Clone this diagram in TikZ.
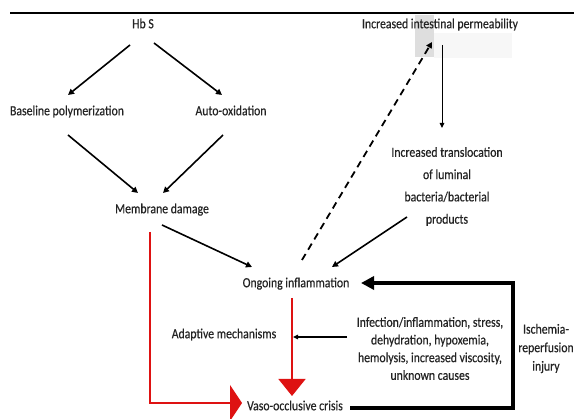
\documentclass[tikz,border=0pt]{standalone}
\usepackage{fontspec}
\setmainfont{Carlito}[FakeStretch=0.84,FakeBold=0.4]
\usetikzlibrary{arrows.meta,calc}
\definecolor{vocred}{RGB}{222,18,18}
\definecolor{txtgray}{RGB}{35,35,35}
\begin{document}
\begin{tikzpicture}[x=1pt,y=-1pt,
	lbl/.style={font=\fontsize{14}{17.7}\selectfont, text=txtgray, inner sep=0pt, text height=9.5pt, text depth=3pt},
	multi/.style={font=\fontsize{14}{#1}\selectfont, text=txtgray, inner sep=0pt, align=center},
	blk/.style={line width=1.6pt, -{Triangle[length=6pt,width=6pt]}},
	thin/.style={line width=1pt, -{Triangle[length=5pt,width=4.5pt]}},
	redline/.style={line width=1.5pt, draw=vocred},
	loop/.style={line width=3.6pt, -{Triangle[length=13pt,width=13pt]}}]
	\useasboundingbox (0,0) rectangle (574,419);
	\fill[white] (0,0) rectangle (574,419);

	\fill[black!13] (415,15) rectangle (434,57);
	\fill[black!3] (434,33) rectangle (512,58);
	\draw[line width=2.6pt] (10,13) -- (574,13);

	\node[lbl] (hbs) at (143,25) {Hb S};
	\node[lbl] (icp) at (440,25) {Increased intestinal permeability};
	\node[lbl] (basepol) at (67,112) {Baseline polymerization};
	\node[lbl] (autox) at (231,112) {Auto-oxidation};
	\node[lbl] (memb) at (162,210) {Membrane damage};
	\node[multi=22.3] (transl) at (447,186.5) {Increased translocation\\of luminal\\bacteria/bacterial\\products};
	\node[lbl] (ongo) at (296,284) {Ongoing inflammation};
	\node[lbl] (adapt) at (224,335) {Adaptive mechanisms};
	\node[multi=17.7] (infect) at (430,348.5) {Infection/inflammation, stress,\\dehydration, hypoxemia,\\hemolysis, increased viscosity,\\unknown causes};
	\node[multi=18.5] (isch) at (546,348.5) {Ischemia-\\reperfusion\\injury};
	\node[lbl] (vaso) at (295,407) {Vaso-occlusive crisis};

	\draw[blk] ($(hbs)+(-13,20)$) -- ($(basepol)+(1,-17)$);
	\draw[blk] ($(hbs)+(11,18)$) -- ($(autox)+(-9,-17)$);
	\draw[blk] ($(basepol)+(1,23)$) -- ($(memb)+(-24,-17)$);
	\draw[blk] ($(autox)+(-8,23)$) -- ($(memb)+(1,-17)$);
	\draw[blk] ($(memb)+(0,15)$) -- ($(ongo)+(-44,-17)$);
	\draw[blk] ($(transl)+(-40,30.5)$) -- ($(ongo)+(36,-17)$);
	\draw[blk, line width=1.8pt, dash pattern=on 7pt off 5pt] ($(ongo)+(6,-24)$) -- ($(icp)+(-8,17)$);
	\draw[thin] ($(icp)+(2,20)$) -- ($(transl)+(-5,-58.5)$);
	\draw[thin, line width=1.4pt] ($(infect)+(-83,-11.5)$) -- ($(adapt)+(69,2)$);

	\draw[redline, -{Triangle[length=17pt,width=27pt]}, vocred] ($(ongo)+(-4,14)$) -- ($(vaso)+(-3,-11)$);
	\draw[redline, -{Triangle[length=12pt,width=36pt]}, vocred] ($(memb)+(-12,22)$) |- ($(vaso)+(-53,-4)$);

	\draw[loop] ($(vaso)+(55,1)$) -- ++(163,0) |- ($(ongo)+(65,-1)$);
\end{tikzpicture}
\end{document}
